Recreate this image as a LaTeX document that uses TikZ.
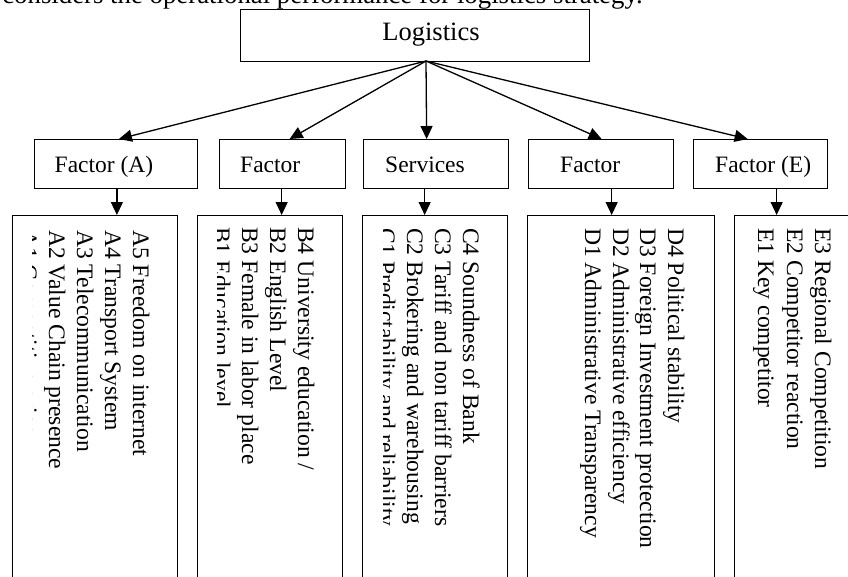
\documentclass[tikz,border=0pt]{standalone}
\usepackage{fontspec}
\setmainfont{Liberation Serif}
\usetikzlibrary{arrows.meta}
\begin{document}
\begin{tikzpicture}[x=1pt,y=-1pt,
  box/.style={draw, line width=1.3pt, inner sep=0pt, anchor=north west},
  lbl/.style={inner sep=0pt, anchor=base west, font=\fontsize{23.5}{28}\selectfont},
  vline/.style={inner sep=0pt, anchor=base west, rotate=-90, font=\fontsize{23.6}{28}\selectfont},
  arr/.style={line width=1.3pt, -{Triangle[length=13pt,width=12pt]}}]
\useasboundingbox (0,0) rectangle (848,576);

% cut-off line of running text
\node[inner sep=0pt, anchor=base east, font=\fontsize{26.8}{30}\selectfont] (toptext) at (643,3)
  {considers the operational performance for logistics strategy.};

% root
\node[box, minimum width=349pt, minimum height=52pt] (L) at (240,9) {};
\node[inner sep=0pt, font=\fontsize{26.5}{30}\selectfont] (Lt) at (431,35) {Logistics};
\coordinate (hub) at (426,61);

% factor boxes
\node[box, minimum width=163.5pt, minimum height=49pt] (fA) at (33.5,139) {};
\node[box, minimum width=126pt, minimum height=49pt] (fB) at (219,139) {};
\node[box, minimum width=145pt, minimum height=49pt] (fC) at (363,139) {};
\node[box, minimum width=145pt, minimum height=49pt] (fD) at (528,139) {};
\node[box, minimum width=134pt, minimum height=49pt] (fE) at (693,139) {};

\node[lbl] (tA) at (54.5,172) {Factor (A)};
\node[lbl] (tB) at (240,172) {Factor};
\node[lbl] (tC) at (385,172) {Services};
\node[lbl] (tD) at (560,172) {Factor};
\node[lbl] (tE) at (715,172) {Factor (E)};

% item boxes
\node[box, minimum width=165pt, minimum height=385pt] (iA) at (12,215) {};
\node[box, minimum width=145pt, minimum height=385pt] (iB) at (197,215) {};
\node[box, minimum width=145pt, minimum height=385pt] (iC) at (362,215) {};
\node[box, minimum width=187pt, minimum height=385pt] (iD) at (527,215) {};
\node[box, minimum width=136pt, minimum height=385pt] (iE) at (734,215) {};

% arrows root -> factors
\draw[arr] (hub) -- ([xshift=3pt]fA.north);
\draw[arr] (hub) -- ([xshift=7pt]fB.north);
\draw[arr] (hub) -- ([xshift=-9.5pt]fC.north);
\draw[arr] (hub) -- ([xshift=0.5pt]fD.north);
\draw[arr] (hub) -- ([xshift=-13pt]fE.north);

% arrows factors -> items
\draw[arr] ([xshift=1pt]fA.south) -- ([xshift=1pt]fA.south |- iA.north);
\draw[arr] ([xshift=-1pt]fB.south) -- ([xshift=-1pt]fB.south |- iB.north);
\draw[arr] ([xshift=-11.5pt]fC.south) -- ([xshift=-11.5pt]fC.south |- iC.north);
\draw[arr] ([xshift=10.5pt]fD.south) -- ([xshift=10.5pt]fD.south |- iD.north);
\draw[arr] ([xshift=16pt]fE.south) -- ([xshift=16pt]fE.south |- iE.north);

% item texts (rotated)
\begin{scope}
\clip (32,215) rectangle (177,600);
\node[vline] (a5) at (133,230) {A5 Freedom on internet};
\node[vline] (a4) at (105,230) {A4 Transport System};
\node[vline] (a3) at (77,230) {A3 Telecommunication};
\node[vline] (a2) at (49,230) {A2 Value Chain presence};
\node[vline] (a1) at (21,230) {A1 Competitive price};
\end{scope}
\begin{scope}
\clip (217,215) rectangle (342,600);
\node[vline] (b4) at (298,227) {B4 University education /};
\node[vline] (b2) at (270,227) {B2 English Level};
\node[vline] (b3) at (242,227) {B3 Female in labor place};
\node[vline] (b1) at (214,227) {B1 Education level};
\end{scope}
\begin{scope}
\clip (383,215) rectangle (507,600);
\node[vline] (c4) at (463,228) {C4 Soundness of Bank};
\node[vline] (c3) at (435,228) {C3 Tariff and non tariff barriers};
\node[vline] (c2) at (407,228) {C2 Brokering and warehousing};
\node[vline] (c1) at (379,228) {C1 Predictability and reliability};
\end{scope}
\node[vline] (d4) at (668,228) {D4 Political stability};
\node[vline] (d3) at (640,228) {D3 Foreign Investment protection};
\node[vline] (d2) at (613,228) {D2 Administrative efficiency};
\node[vline] (d1) at (585,228) {D1 Administrative Transparency};
\node[vline] (e3) at (815,228) {E3 Regional Competition};
\node[vline] (e2) at (787,228) {E2 Competitor reaction};
\node[vline] (e1) at (758,228) {E1 Key competitor};
\end{tikzpicture}
\end{document}
